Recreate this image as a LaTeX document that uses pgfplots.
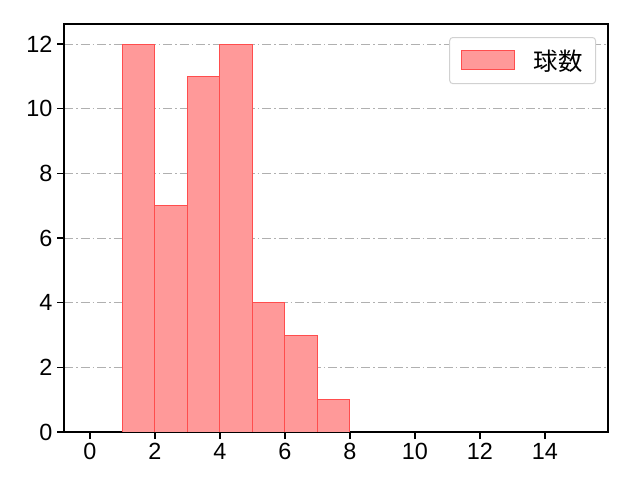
\documentclass[border=0pt]{standalone}
\usepackage{pgfplots}
\pgfplotsset{compat=1.18}
\usepackage{fontspec}
\setmainfont{Noto Sans CJK JP}
\newfontfamily\tickfont{Liberation Sans}
\definecolor{barfill}{HTML}{FF9999}
\definecolor{baredge}{HTML}{FF4D4D}
\definecolor{gridc}{HTML}{B0B0B0}
\begin{document}
\begin{tikzpicture}
\begin{axis}[
  scale only axis,
  width=544bp, height=408bp,
  xmin=-0.8, xmax=15.94,
  ymin=0, ymax=12.62,
  xtick={0,2,...,14},
  ytick={0,2,...,12},
  ymajorgrids=true,
  grid style={gridc, dash pattern=on 9bp off 3bp on 1.5bp off 3bp, line width=1bp},
  axis line style={black, line width=1.6bp},
  tick style={black, line width=1.3bp},
  tick align=outside,
  xtick pos=bottom, ytick pos=left,
  major tick length=7bp,
  ticklabel style={font=\tickfont\fontsize{23.5}{23.5}\selectfont},
  xticklabel style={yshift=-1bp},
  yticklabel style={xshift=-1bp},
  /pgf/number format/assume math mode=true,
  legend style={at={(0.978,0.968)}, anchor=north east, draw=black!18, rounded corners=3bp,
    line width=1bp,
    font=\fontsize{24.5}{24.5}\selectfont, inner xsep=11bp, inner ysep=10bp},
  legend image code/.code={\draw[#1, sharp corners] (0bp,-9bp) rectangle (53bp,10bp);},
  legend cell align=left,
]
\addplot[ybar interval, fill=barfill, draw=baredge, line width=1bp] coordinates {
  (1,12) (2,7) (3,11) (4,12) (5,4) (6,3) (7,1) (8,1)
};
\addlegendentry{\hspace{17bp}球数}
\end{axis}
\path[use as bounding box] ([shift={(-64bp,-48bp)}]current axis.south west)
  rectangle ([shift={(32bp,24bp)}]current axis.north east);
\end{tikzpicture}
\end{document}
